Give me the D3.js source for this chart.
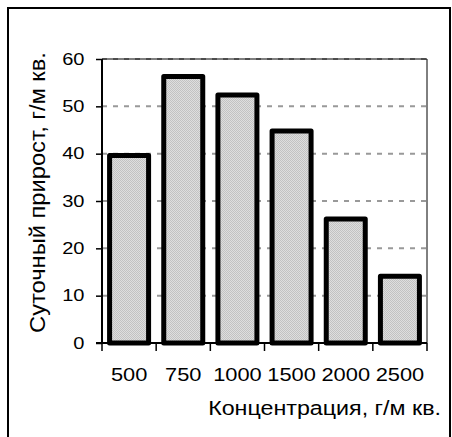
<!DOCTYPE html>
<html>
<head>
<meta charset="utf-8">
<script src="https://cdn.jsdelivr.net/npm/d3@7"></script>
<style>
  body { margin: 0; background: #fff; }
  text { font-family: "Liberation Sans", Arial, sans-serif; fill: #000; }
</style>
</head>
<body>
<div id="chart"></div>
<script>
// data
const categories = ["500", "750", "1000", "1500", "2000", "2500"];
const values = [39.6, 56.3, 52.4, 44.8, 26.2, 14.1];
const yTicks = [0, 10, 20, 30, 40, 50, 60];
const xTitle = "Концентрация, г/м кв.";
const yTitle = "Суточный прирост, г/м кв.";

const W = 452, H = 437;

const svg = d3.select("#chart").append("svg")
    .attr("width", W)
    .attr("height", H);

// fine checker fill of the bars
const pat = svg.append("defs").append("pattern")
    .attr("id", "hatch")
    .attr("patternUnits", "userSpaceOnUse")
    .attr("width", 2)
    .attr("height", 2);
pat.append("rect").attr("width", 2).attr("height", 2).attr("fill", "#dedede");
pat.append("rect").attr("width", 1).attr("height", 1).attr("fill", "#c2c2c2");
pat.append("rect").attr("x", 1).attr("y", 1).attr("width", 1).attr("height", 1).attr("fill", "#c2c2c2");

// outer frame
svg.append("rect")
    .attr("x", 8).attr("y", 8)
    .attr("width", 442).attr("height", 450)
    .attr("fill", "none")
    .attr("stroke", "#000")
    .attr("stroke-width", 2);

const plot = {left: 102, right: 427, top: 59, bottom: 343};

const x = d3.scaleBand()
    .domain(categories)
    .range([plot.left, plot.right]);

const y = d3.scaleLinear()
    .domain([0, 60])
    .range([plot.bottom, plot.top]);

// gridlines
svg.append("g")
    .selectAll("line")
    .data(yTicks.filter(d => d > 0))
    .join("line")
    .attr("x1", plot.left).attr("x2", plot.right)
    .attr("y1", d => y(d)).attr("y2", d => y(d))
    .attr("stroke", "#999")
    .attr("stroke-width", 2)
    .attr("stroke-dasharray", "5,6");

// thin border on top and right of plot area
svg.append("path")
    .attr("d", `M${plot.left},${plot.top}H${plot.right}V${plot.bottom}`)
    .attr("fill", "none")
    .attr("stroke", "#000")
    .attr("stroke-width", 1);

// bars
const bw = x.bandwidth() * 0.72;
svg.append("g")
    .selectAll("rect")
    .data(values)
    .join("rect")
    .attr("x", (d, i) => x(categories[i]) + (x.bandwidth() - bw) / 2)
    .attr("y", d => y(d))
    .attr("width", bw)
    .attr("height", d => y(0) - y(d))
    .attr("fill", "url(#hatch)")
    .attr("stroke", "#000")
    .attr("stroke-width", 5)
    .attr("stroke-linejoin", "round");

// y axis
const yAxis = svg.append("g")
    .attr("transform", `translate(${plot.left},0)`)
    .call(d3.axisLeft(y).tickValues(yTicks).tickSize(6).tickFormat(""));
yAxis.select(".domain").attr("d", `M0,${plot.top}V${plot.bottom}`).attr("stroke-width", 2);
yAxis.selectAll(".tick line").attr("stroke-width", 1.5);

// x axis with ticks at band edges
svg.append("line")
    .attr("x1", plot.left - 6).attr("x2", plot.right)
    .attr("y1", plot.bottom).attr("y2", plot.bottom)
    .attr("stroke", "#000").attr("stroke-width", 2);
const edges = categories.map(c => x(c)).concat([x.range()[1]]);
svg.append("g")
    .selectAll("line")
    .data(edges)
    .join("line")
    .attr("x1", d => d).attr("x2", d => d)
    .attr("y1", plot.bottom).attr("y2", plot.bottom + 8)
    .attr("stroke", "#000").attr("stroke-width", 1.5);

// helper: text stretched along its own direction (the source glyphs run wide)
function label(px, py, str, size, anchor, stretch, rot) {
    svg.append("text")
        .attr("transform", `translate(${px},${py})` + (rot ? ` rotate(${rot})` : "") + ` scale(${stretch},1)`)
        .attr("text-anchor", anchor)
        .style("font-size", size + "px")
        .text(str);
}

yTicks.forEach(t => label(84.5, y(t) + 5.5, String(t), 17, "end", 1.18));
categories.forEach(c => label(x(c) + x.bandwidth() / 2, 381, c, 18.5, "middle", 1.18));

// titles: fit to the lengths they have in the picture
function title(px, py, str, size, anchor, len, rot) {
    const t = svg.append("text")
        .attr("text-anchor", anchor)
        .style("font-size", size + "px")
        .text(str);
    const k = len / t.node().getComputedTextLength();
    t.attr("transform", `translate(${px},${py})` + (rot ? ` rotate(${rot})` : "") + ` scale(${k},1)`);
}

title(441, 415, xTitle, 19.5, "end", 233);
title(45, 192.5, yTitle, 21.5, "middle", 281, -90);
</script>
</body>
</html>
